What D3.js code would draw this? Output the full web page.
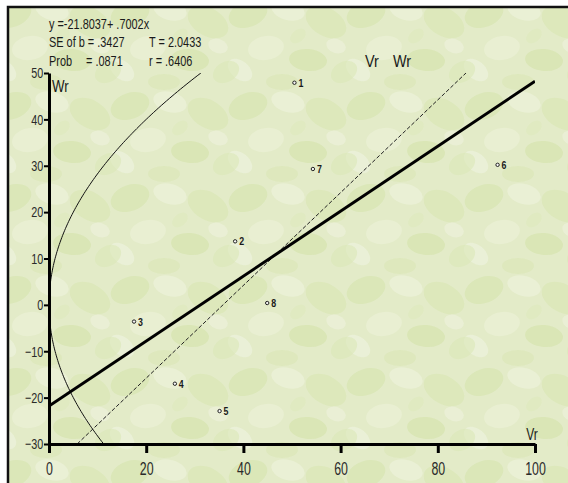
<!DOCTYPE html>
<html>
<head>
<meta charset="utf-8">
<script src="https://cdn.jsdelivr.net/npm/d3@7"></script>
<style>
  html, body { margin: 0; padding: 0; background: #fff; }
  svg { display: block; font-family: "Liberation Sans", Arial, sans-serif; }
</style>
</head>
<body>
<svg id="chart" width="568" height="483"></svg>
<script>
// parents (array numbers) and their Vr / Wr values
const parents = ["1", "2", "3", "4", "5", "6", "7", "8"];
const vrValues = [50.5, 38.3, 17.5, 25.9, 35.1, 92.3, 54.3, 44.9];
const wrValues = [47.9, 13.7, -3.6, -17.0, -22.9, 30.2, 29.3, 0.4];

// regression Wr = a + b*Vr, unit-slope line and limiting parabola Wr^2 = Vr*Vp
const regA = -21.8037, regB = 0.7002;
const unitA = -35.8;
const vp = 80;

const xTicks = [0, 20, 40, 60, 80, 100];
const yTicks = [-30, -20, -10, 0, 10, 20, 30, 40, 50];

const statLines = [
    ["y =-21.8037+ .7002x"],
    ["SE of b = .3427", "T = 2.0433"],
    ["Prob", "= .0871", "r = .6406"]
];

const svg = d3.select("#chart");

// leafy background (soft, low contrast), shapes wrapped so the tile is seamless
const defs = svg.append("defs");
const tw = 118, th = 92;
const pat = defs.append("pattern").attr("id", "leaves")
    .attr("patternUnits", "userSpaceOnUse").attr("width", tw).attr("height", th);
pat.append("rect").attr("width", tw).attr("height", th).attr("fill", "#e3ebc8");
const leafShapes = [
    [12, 14, 20, 13, -20, "#d6e4ae"], [52, 10, 17, 10, 15, "#eef3dd"],
    [90, 22, 22, 14, 30, "#d9e6b3"], [30, 48, 18, 12, -10, "#ecf1d9"],
    [72, 60, 19, 11, 5, "#d4e3aa"], [4, 70, 14, 9, 40, "#eff4e1"],
    [108, 72, 14, 10, -30, "#dbe7b8"], [46, 82, 16, 8, 0, "#dae6b6"],
    [100, 46, 10, 7, 20, "#eef2dd"], [62, 36, 9, 6, -40, "#dde9bd"]
];
leafShapes.forEach(([cx, cy, rx, ry, rot, c]) => {
    [-tw, 0, tw].forEach(dx => [-th, 0, th].forEach(dy => {
        const px = cx + dx, py = cy + dy;
        pat.append("ellipse").attr("cx", px).attr("cy", py).attr("rx", rx).attr("ry", ry)
            .attr("transform", `rotate(${rot},${px},${py})`)
            .attr("fill", c).attr("opacity", 0.6);
    }));
});
svg.append("rect").attr("x", 8).attr("y", 7).attr("width", 560).attr("height", 476)
    .attr("fill", "url(#leaves)");
svg.append("path").attr("d", "M8,483 L8,7 L568,7")
    .attr("fill", "none").attr("stroke", "#111").attr("stroke-width", 2.5);

const x = d3.scaleLinear().domain([0, 100]).range([49, 535]);
const y = d3.scaleLinear().domain([-30, 50]).range([444, 73]);

// squeezed text helper (source image is horizontally compressed)
const label = (g, tx, ty, str, size, sx, anchor, weight) => g.append("text")
    .attr("transform", `translate(${tx},${ty}) scale(${sx},1)`)
    .attr("text-anchor", anchor || "start")
    .attr("font-size", size)
    .attr("font-weight", weight || "normal")
    .attr("fill", "#1a1a1a")
    .text(str);

// stats block
const stats = svg.append("g");
label(stats, 49, 29, statLines[0][0], 14, 0.78);
label(stats, 49, 47, statLines[1][0], 14, 0.78);
label(stats, 149, 47, statLines[1][1], 14, 0.78);
label(stats, 49, 66, statLines[2][0], 14, 0.78);
label(stats, 86, 66, statLines[2][1], 14, 0.78);
label(stats, 149, 66, statLines[2][2], 14, 0.78);

label(svg, 365, 67, "Vr", 17, 0.85);
label(svg, 393, 67, "Wr", 17, 0.85);

// lines
const clip = defs.append("clipPath").attr("id", "plotClip");
clip.append("rect").attr("x", x(0)).attr("y", y(50)).attr("width", x(100) - x(0)).attr("height", y(-30) - y(50));
const plot = svg.append("g").attr("clip-path", "url(#plotClip)");

const line = d3.line().x(d => x(d[0])).y(d => y(d[1]));

// limiting parabola, sampled along Wr
const wrSteps = d3.range(-30, 50.01, 0.5);
plot.append("path")
    .datum(wrSteps.map(w => [w * w / vp, w]))
    .attr("d", line).attr("fill", "none").attr("stroke", "#111").attr("stroke-width", 1);

// unit slope line
plot.append("path")
    .datum([[-30 - unitA, -30], [50 - unitA, 50]])
    .attr("d", line).attr("fill", "none").attr("stroke", "#222")
    .attr("stroke-width", 1).attr("stroke-dasharray", "4,2");

// regression line
plot.append("path")
    .datum([[0, regA], [100, regA + regB * 100]])
    .attr("d", line).attr("fill", "none").attr("stroke", "#000").attr("stroke-width", 3);

// axes
const yAxis = svg.append("g").attr("transform", `translate(${x(0)},0)`)
    .call(d3.axisLeft(y).tickValues(yTicks).tickSize(5).tickPadding(3).tickSizeOuter(0));
yAxis.select(".domain").attr("stroke-width", 3).attr("stroke", "#000");
yAxis.selectAll(".tick line").attr("stroke-width", 2);
yAxis.selectAll(".tick text")
    .attr("font-size", 15).attr("fill", "#2a2a2a")
    .attr("transform", "scale(0.72,1)");

const xAxis = svg.append("g").attr("transform", `translate(0,${y(-30)})`)
    .call(d3.axisBottom(x).tickValues(xTicks).tickSize(9).tickPadding(9).tickSizeOuter(0));
xAxis.select(".domain").attr("stroke-width", 3).attr("stroke", "#000");
xAxis.selectAll(".tick line").attr("stroke-width", 3);
xAxis.selectAll(".tick text")
    .attr("font-size", 19).attr("fill", "#2a2a2a")
    .attr("transform", "scale(0.65,1)");
svg.selectAll("g").filter(function () { return this.hasAttribute("font-family"); })
    .attr("font-family", null);

label(svg, 52, 92, "Wr", 16, 0.83);
label(svg, 532, 440, "Vr", 16, 0.75, "middle");

// parent points
const pts = svg.append("g").selectAll("g").data(parents).join("g")
    .attr("transform", (d, i) => `translate(${x(vrValues[i])},${y(wrValues[i])})`);
pts.append("circle").attr("r", 1.7).attr("fill", "#f4f4f4").attr("stroke", "#222").attr("stroke-width", 1);
pts.each(function (d) { label(d3.select(this), 4, 4, d, 11, 0.8, "start", "bold"); });
</script>
</body>
</html>
